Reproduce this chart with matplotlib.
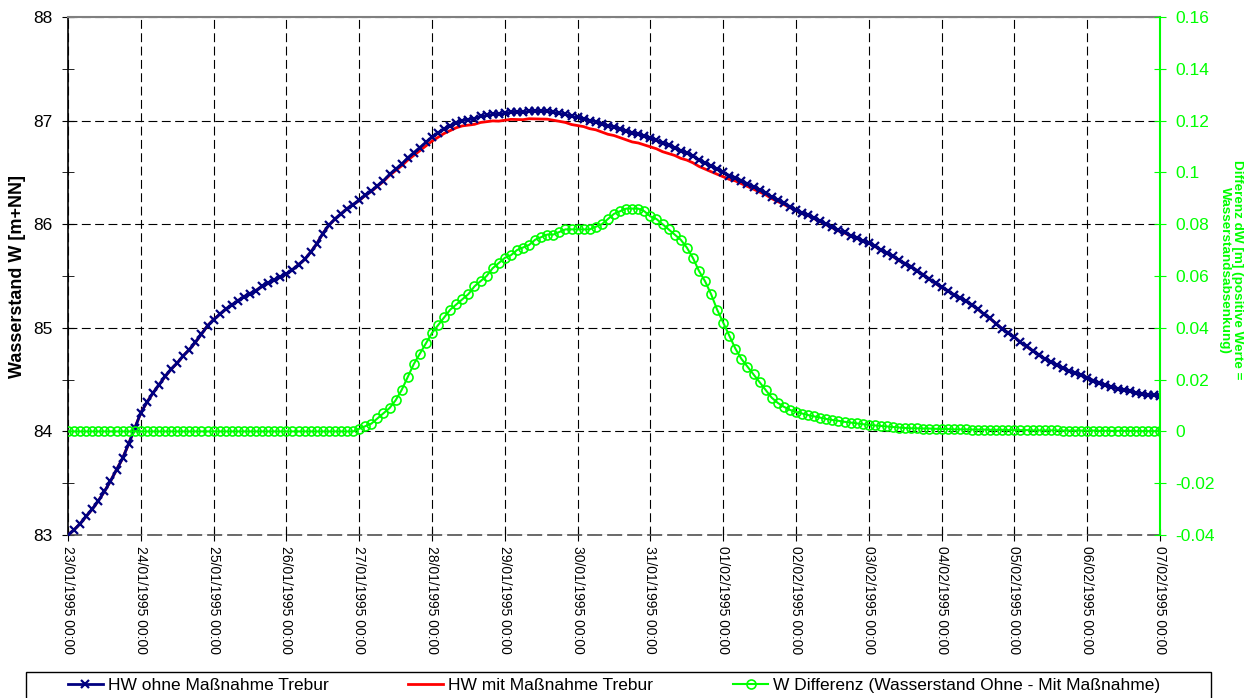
import matplotlib
matplotlib.use('Agg')
import matplotlib.pyplot as plt
import matplotlib.dates as mdates
from matplotlib.lines import Line2D
from matplotlib.patches import Rectangle
from matplotlib.ticker import MultipleLocator
import numpy as np
import pandas as pd

plt.rcParams['font.family'] = ['Liberation Sans', 'DejaVu Sans']

# Zeitachse: 2-stündliche Werte vom 23/01/1995 bis 07/02/1995
zeit = pd.date_range('1995-01-23 00:00', '1995-02-07 00:00', freq='2h')

# HW ohne Maßnahme Trebur [m+NN], eine Zeile pro Tag
hw_ohne = [
    83.00, 83.05, 83.11, 83.18, 83.25, 83.33, 83.42, 83.52, 83.63, 83.74, 83.88, 84.03,
    84.18, 84.28, 84.37, 84.45, 84.53, 84.60, 84.66, 84.73, 84.79, 84.86, 84.94, 85.02,
    85.08, 85.13, 85.18, 85.22, 85.26, 85.30, 85.33, 85.36, 85.40, 85.43, 85.46, 85.49,
    85.52, 85.56, 85.61, 85.66, 85.73, 85.81, 85.91, 85.99, 86.05, 86.10, 86.15, 86.19,
    86.23, 86.28, 86.32, 86.37, 86.42, 86.48, 86.53, 86.58, 86.64, 86.69, 86.74, 86.79,
    86.84, 86.88, 86.92, 86.95, 86.98, 87.00, 87.01, 87.02, 87.04, 87.05, 87.06, 87.06,
    87.07, 87.08, 87.08, 87.08, 87.09, 87.09, 87.09, 87.09, 87.08, 87.07, 87.06, 87.04,
    87.03, 87.02, 87.00, 86.99, 86.97, 86.95, 86.94, 86.92, 86.90, 86.88, 86.87, 86.85,
    86.83, 86.81, 86.78, 86.76, 86.74, 86.71, 86.69, 86.66, 86.62, 86.59, 86.56, 86.53,
    86.50, 86.47, 86.45, 86.42, 86.39, 86.36, 86.33, 86.30, 86.26, 86.23, 86.20, 86.17,
    86.14, 86.11, 86.09, 86.06, 86.03, 86.00, 85.97, 85.94, 85.92, 85.89, 85.87, 85.84,
    85.82, 85.79, 85.75, 85.72, 85.69, 85.65, 85.62, 85.59, 85.55, 85.51, 85.47, 85.43,
    85.39, 85.36, 85.32, 85.29, 85.26, 85.22, 85.18, 85.13, 85.09, 85.04, 84.99, 84.95,
    84.91, 84.86, 84.82, 84.78, 84.74, 84.70, 84.67, 84.64, 84.61, 84.58, 84.56, 84.54,
    84.52, 84.49, 84.47, 84.45, 84.43, 84.41, 84.40, 84.39, 84.37, 84.36, 84.35, 84.35,
    84.34,
]

# W Differenz (Wasserstand Ohne - Mit Maßnahme) [m]
w_diff = [
    0, 0, 0, 0, 0, 0, 0, 0, 0, 0, 0, 0,
    0, 0, 0, 0, 0, 0, 0, 0, 0, 0, 0, 0,
    0, 0, 0, 0, 0, 0, 0, 0, 0, 0, 0, 0,
    0, 0, 0, 0, 0, 0, 0, 0, 0, 0, 0, 0,
    0.001, 0.002, 0.003, 0.005, 0.007, 0.009, 0.012, 0.016, 0.021, 0.026, 0.030, 0.034,
    0.038, 0.041, 0.044, 0.047, 0.049, 0.051, 0.053, 0.056, 0.058, 0.060, 0.063, 0.065,
    0.067, 0.068, 0.070, 0.071, 0.072, 0.074, 0.075, 0.076, 0.076, 0.077, 0.078, 0.078,
    0.078, 0.078, 0.078, 0.079, 0.080, 0.082, 0.084, 0.085, 0.086, 0.086, 0.086, 0.085,
    0.083, 0.082, 0.080, 0.078, 0.076, 0.074, 0.071, 0.067, 0.062, 0.058, 0.053, 0.047,
    0.042, 0.037, 0.032, 0.028, 0.025, 0.022, 0.019, 0.016, 0.013, 0.011, 0.0095, 0.0083,
    0.0075, 0.0069, 0.0063, 0.0058, 0.0053, 0.0048, 0.0044, 0.0041, 0.0037, 0.0034, 0.0031, 0.0028,
    0.0025, 0.0023, 0.0021, 0.0019, 0.0017, 0.0015, 0.0013, 0.0012, 0.0012, 0.0011, 0.0011, 0.0010,
    0.0009, 0.0009, 0.0008, 0.0008, 0.0008, 0.0007, 0.0007, 0.0007, 0.0006, 0.0006, 0.0006, 0.0005,
    0.0005, 0.0005, 0.0005, 0.0004, 0.0004, 0.0004, 0.0004, 0.0004, 0.0003, 0.0003, 0.0003, 0.0003,
    0.0003, 0.0003, 0.0002, 0.0002, 0.0002, 0.0002, 0.0002, 0.0002, 0.0001, 0.0001, 0.0001, 0.0001,
    0.0001,
]

# HW mit Maßnahme = ohne - Differenz
hw_mit = np.array(hw_ohne) - np.array(w_diff)

rechts_ticks = [-0.04, -0.02, 0, 0.02, 0.04, 0.06, 0.08, 0.1, 0.12, 0.14, 0.16]

GRUEN = '#00FF00'
BLAU = '#000080'
gitter = dict(color='black', linestyle=(0, (8, 4)), linewidth=0.8)

stil_ohne = dict(color=BLAU, linewidth=2.0, marker='x', markersize=5.5,
                 markeredgewidth=1.6)
stil_mit = dict(color='red', linewidth=2.0)
stil_diff = dict(color=GRUEN, linewidth=1.5, marker='o', markersize=6.5,
                 markerfacecolor='none', markeredgewidth=1.2,
                 markeredgecolor=GRUEN)

fig = plt.figure(figsize=(12.57, 6.98), dpi=100)
ax = fig.add_axes([68 / 1257, 1 - 535 / 698, 1092 / 1257, 518 / 698])
ax2 = ax.twinx()

ax.plot(zeit, hw_mit, zorder=3, **stil_mit)
ax.plot(zeit, hw_ohne, zorder=4, **stil_ohne)
ax2.plot(zeit, w_diff, zorder=3, **stil_diff)

ax.set_xlim(zeit[0], zeit[-1])
ax.set_ylim(83, 88)

ax.xaxis.set_major_locator(mdates.DayLocator())
ax.xaxis.set_major_formatter(mdates.DateFormatter('%d/%m/%Y %H:%M'))
ax.yaxis.set_major_locator(MultipleLocator(1))
ax.yaxis.set_minor_locator(MultipleLocator(0.5))
ax2.set_yticks(rechts_ticks)
ax2.set_yticklabels(['%g' % v for v in rechts_ticks])
ax2.set_ylim(-0.04, 0.16)

ax.grid(True, which='major', axis='both', **gitter)
ax.set_axisbelow(True)

ax.tick_params(axis='x', direction='inout', length=8, labelrotation=270,
               labelsize=10, pad=4)
ax.tick_params(axis='y', which='major', direction='inout', length=8,
               labelsize=12.5, pad=7)
ax.tick_params(axis='y', which='minor', direction='inout', length=8)
ax2.tick_params(axis='y', direction='inout', length=8, labelsize=12.5,
                pad=7, colors=GRUEN, labelcolor=GRUEN)

for s in ['left', 'top', 'bottom']:
    ax2.spines[s].set_visible(False)
ax2.spines['right'].set_color(GRUEN)
ax2.spines['right'].set_linewidth(1.5)
ax.spines['right'].set_visible(False)
ax.spines['left'].set_linewidth(1.2)
ax.spines['top'].set_color('#808080')
ax.spines['top'].set_linewidth(1.5)
ax.spines['bottom'].set_color('#505050')
ax.spines['bottom'].set_linestyle((0, (8, 4)))
ax.spines['bottom'].set_linewidth(1.2)

fig.text(18 / 1257, 1 - 276 / 698, 'Wasserstand W [m+NN]', rotation=90,
         ha='center', va='center', fontsize=13, fontweight='bold')
fig.text(1231 / 1257, 1 - 270 / 698,
         'Differenz dW [m] (positive Werte =\nWasserstandsabsenkung)',
         rotation=270, ha='center', va='center', fontsize=9.7,
         fontweight='bold', color=GRUEN, linespacing=1.0)

# Legendenrahmen (unten abgeschnitten wie im Original)
fig.patches.append(Rectangle((26 / 1257, -0.05), 1185 / 1257,
                             (698 - 672) / 698 + 0.05,
                             transform=fig.transFigure, fill=False,
                             edgecolor='black', linewidth=1.0))

handles = [Line2D([], [], **stil_ohne), Line2D([], [], **stil_mit),
           Line2D([], [], **stil_diff)]
labels = ['HW ohne Maßnahme Trebur', 'HW mit Maßnahme Trebur',
          'W Differenz (Wasserstand Ohne - Mit Maßnahme)']
fig.legend(handles, labels, loc='center',
           bbox_to_anchor=(614 / 1257, 1 - 685 / 698),
           ncol=3, fontsize=12.5, handlelength=2, handletextpad=0.3,
           columnspacing=4.6, frameon=False, borderpad=0, borderaxespad=0)

fig.savefig('out.png', dpi=100)
